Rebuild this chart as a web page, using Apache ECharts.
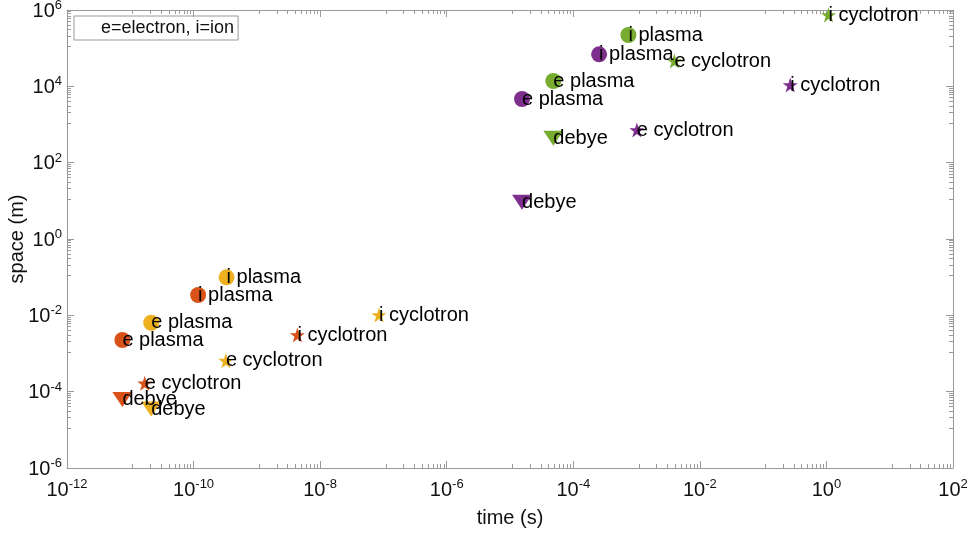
<!DOCTYPE html>
<html>
<head>
<meta charset="utf-8">
<script src="https://cdn.jsdelivr.net/npm/echarts@6/dist/echarts.min.js"></script>
<style>
html,body{margin:0;padding:0;background:#fff;}
#chart{width:969px;height:535px;}
</style>
</head>
<body>
<div id="chart"></div>
<script>
// ---- data ----
const categories = ['e plasma', 'i plasma', 'e cyclotron', 'i cyclotron', 'debye'];
const timeRed    = [7.5e-12, 1.18e-10, 1.69e-11, 4.37e-9, 7.5e-12];
const spaceRed   = [2.26e-3, 3.41e-2, 1.66e-4, 3.05e-3, 6.2e-5];
const timeYellow = [2.14e-11, 3.32e-10, 3.24e-10, 8.5e-8, 2.14e-11];
const spaceYellow= [6.4e-3, 9.9e-2, 6.5e-4, 1.02e-2, 3.5e-5];
const timePurple = [1.55e-5, 2.56e-4, 1.01e-3, 0.268, 1.55e-5];
const spacePurple= [4.66e3, 6.9e4, 718, 1.08e4, 9.2];
const timeGreen  = [4.84e-5, 7.43e-4, 3.96e-3, 1.08, 4.84e-5];
const spaceGreen = [1.38e4, 2.21e5, 4.6e4, 7.4e5, 435];
const legendText = 'e=electron, i=ion';

// ---- styles ----
const FONT = 'Liberation Sans, Arial, Helvetica, sans-serif';
const AXIS_COLOR = '#9a9a9a';
function starPath() {
  let d = 'path://';
  for (let k = 0; k < 10; k++) {
    const r = k % 2 === 0 ? 10 : 3.9;
    const a = -Math.PI / 2 + k * Math.PI / 5;
    d += (k === 0 ? 'M' : 'L') + (r * Math.cos(a)).toFixed(3) + ',' + (r * Math.sin(a)).toFixed(3) + ' ';
  }
  return d + 'Z';
}
const shapeStyle = [
  {symbol: 'circle', symbolSize: 16},
  {symbol: 'circle', symbolSize: 16},
  {symbol: starPath(), symbolSize: 15},
  {symbol: starPath(), symbolSize: 15},
  {symbol: 'path://M0,0 L20,0 L10,15 Z', symbolSize: [20, 15]}
];

function makeSeries(times, spaces, color) {
  return {
    type: 'scatter',
    xAxisIndex: 0, yAxisIndex: 0,
    itemStyle: {color: color, opacity: 1},
    label: {
      show: true, position: 'inside', align: 'left', verticalAlign: 'middle',
      formatter: '{b}', color: '#000', fontSize: 20, fontFamily: FONT
    },
    emphasis: {disabled: true},
    data: times.map((t, i) => Object.assign({name: categories[i], value: [t, spaces[i]]}, shapeStyle[i]))
  };
}

function supLabel(v) {
  const e = Math.round(Math.log10(v));
  return '{b|10}{s|' + e + '}';
}
const richLabel = {
  b: {fontSize: 20, fontFamily: FONT, color: '#111', verticalAlign: 'bottom', lineHeight: 22},
  s: {fontSize: 13, fontFamily: FONT, color: '#111', verticalAlign: 'top', lineHeight: 22, padding: [0, 0, 14, 0]}
};

function logAxis(pos, min, max, showLabel, name) {
  return {
    type: 'log', logBase: 10, position: pos, min: min, max: max, interval: 2,
    splitLine: {show: false},
    axisLine: {show: true, lineStyle: {color: AXIS_COLOR, width: 1}},
    axisTick: {show: true, inside: true, length: 7, lineStyle: {color: AXIS_COLOR}},
    minorTick: {show: true, splitNumber: 10, length: 4, lineStyle: {color: AXIS_COLOR}},
    axisLabel: {show: showLabel, formatter: supLabel, rich: richLabel, margin: 10},
    name: name || '',
    nameLocation: 'middle',
    nameMoveOverlap: false,
    nameTextStyle: {fontSize: 20, fontFamily: FONT, color: '#111'}
  };
}

const chart = echarts.init(document.getElementById('chart'), null, {renderer: 'canvas'});
const xBottom = logAxis('bottom', 1e-12, 1e2, true, 'time (s)');
xBottom.nameGap = 40;
const xTop = logAxis('top', 1e-12, 1e2, false);
const yLeft = logAxis('left', 1e-6, 1e6, true, 'space (m)');
yLeft.nameGap = 40;
yLeft.axisLabel.margin = 5;
const yRight = logAxis('right', 1e-6, 1e6, false);

chart.setOption({
  animation: false,
  backgroundColor: '#fff',
  grid: {left: 67, right: 16, top: 10, bottom: 67, containLabel: false, outerBoundsMode: 'none'},
  legend: {
    show: true, left: 74, top: 16, selectedMode: false,
    borderColor: '#999', borderWidth: 1, borderRadius: 0,
    padding: [3, 4, 3, 4], itemWidth: 18, itemHeight: 10, itemGap: 5,
    textStyle: {fontSize: 18, fontFamily: FONT, color: '#111'},
    data: [{name: legendText, icon: 'rect', itemStyle: {opacity: 0}}]
  },
  xAxis: [xBottom, xTop],
  yAxis: [yLeft, yRight],
  series: [
    {name: legendText, type: 'scatter', data: [], itemStyle: {color: 'rgba(0,0,0,0)'}},
    makeSeries(timeRed, spaceRed, '#D95319'),
    makeSeries(timeYellow, spaceYellow, '#EDB120'),
    makeSeries(timePurple, spacePurple, '#7E2F8E'),
    makeSeries(timeGreen, spaceGreen, '#77AC30')
  ]
});
</script>
</body>
</html>
